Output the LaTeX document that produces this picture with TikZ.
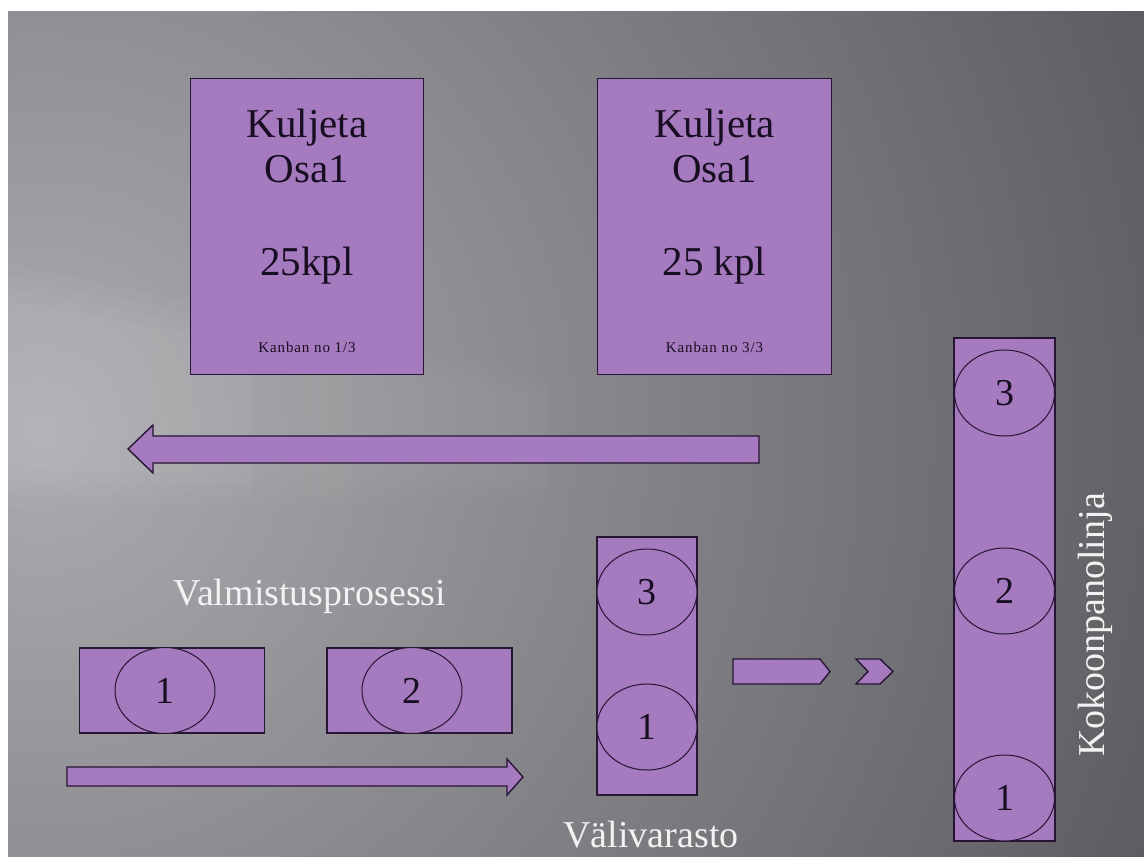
\documentclass[tikz,border=0pt]{standalone}
\usepackage{fontspec}
\setmainfont{Liberation Serif}
\usetikzlibrary{shapes.geometric,fadings}
\definecolor{kfill}{RGB}{166,122,190}
\definecolor{kline}{RGB}{38,22,52}
\definecolor{ktext}{RGB}{24,14,34}
\definecolor{bglight}{RGB}{172,171,175}
\definecolor{bgdark}{RGB}{82,81,86}
\definecolor{lbl}{RGB}{242,242,242}
\begin{document}
\begin{tikzpicture}[x=1pt,y=-1pt,
  card/.style={draw=kline, fill=kfill, line width=1.4pt, inner sep=0pt},
  ell/.style={ellipse, draw=kline, line width=1pt, fill=kfill, inner sep=0pt,
    minimum width=100pt, minimum height=86pt, text=ktext,
    font=\fontsize{38}{38}\selectfont},
  blockarrow/.style={draw=kline, fill=kfill, line width=1.4pt, line join=miter},
  bigtxt/.style={anchor=base, text=ktext, inner sep=0pt, font=\fontsize{41}{41}\selectfont},
  smalltxt/.style={anchor=base, text=ktext, inner sep=0pt,
    font=\fontsize{15}{15}\selectfont\addfontfeature{LetterSpace=6}},
  label/.style={text=lbl, inner sep=0pt, font=\fontsize{38}{38}\selectfont}]
\useasboundingbox (0,0) rectangle (1144,857);

% slide background
\begin{scope}
  \clip (8,11) rectangle (1144,857);
  \shade[inner color=bglight, outer color=bgdark] (40,430) circle (1350);
  % soft light streak running right from the left edge
  \foreach \w in {0,12,24,36}{
    \fill[white, opacity=0.03, path fading=east]
      (8,300-\w) -- (790,440-\w/3) -- (790,485+\w/3) -- (8,470+\w) -- cycle;
  }
\end{scope}

% kanban cards
\node[card, minimum width=233pt, minimum height=296pt] (cardA) at (307,226.5) {};
\node[bigtxt] (a1) at (307,137) {Kuljeta};
\node[bigtxt] (a2) at (307,182) {Osa1};
\node[bigtxt] (a3) at (307,275) {25kpl};
\node[smalltxt] (a4) at (307,352) {Kanban no 1/3};

\node[card, minimum width=234pt, minimum height=296pt] (cardB) at (714.5,226.5) {};
\node[bigtxt] (b1) at (714.5,137) {Kuljeta};
\node[bigtxt] (b2) at (714.5,182) {Osa1};
\node[bigtxt] (b3) at (714.5,275) {25 kpl};
\node[smalltxt] (b4) at (714.5,352) {Kanban no 3/3};

% return flow of kanban cards
\draw[blockarrow] (128,449) -- (153,425) -- (153,436) -- (759,436)
  -- (759,463) -- (153,463) -- (153,473) -- cycle;

% manufacturing process
\node[label] (proc) at (310,596) {Valmistusprosessi};
\node[card, minimum width=185pt, minimum height=85pt] (m1) at (172,690.5) {};
\node[ell] (c1) at (165,690.5) {1};
\node[card, minimum width=185pt, minimum height=85pt] (m2) at (419.5,690.5) {};
\node[ell] (c2) at (412,690.5) {2};
\draw[blockarrow] (67,767) -- (507,767) -- (507,759) -- (523,777)
  -- (507,795) -- (507,786) -- (67,786) -- cycle;

% intermediate storage
\node[card, minimum width=100pt, minimum height=258pt] (store) at (647,666) {};
\node[ell] (s3) at (647,592) {3};
\node[ell] (s1) at (647,727) {1};
\node[label, anchor=base] (storelbl) at (651,847) {Välivarasto};

\draw[blockarrow] (733,659) -- (820,659) -- (830,671.5) -- (820,684) -- (733,684) -- cycle;
\draw[blockarrow] (856,659) -- (880,659) -- (893,671.5) -- (880,684) -- (856,684)
  -- (868,671.5) -- cycle;

% assembly line
\node[card, minimum width=101pt, minimum height=503pt] (line) at (1004.5,589.5) {};
\node[ell] (l3) at (1004.5,393) {3};
\node[ell] (l2) at (1004.5,591) {2};
\node[ell] (l1) at (1004.5,798) {1};
\node[label, rotate=90] (linelbl) at (1095,625) {Kokoonpanolinja};
\end{tikzpicture}
\end{document}
